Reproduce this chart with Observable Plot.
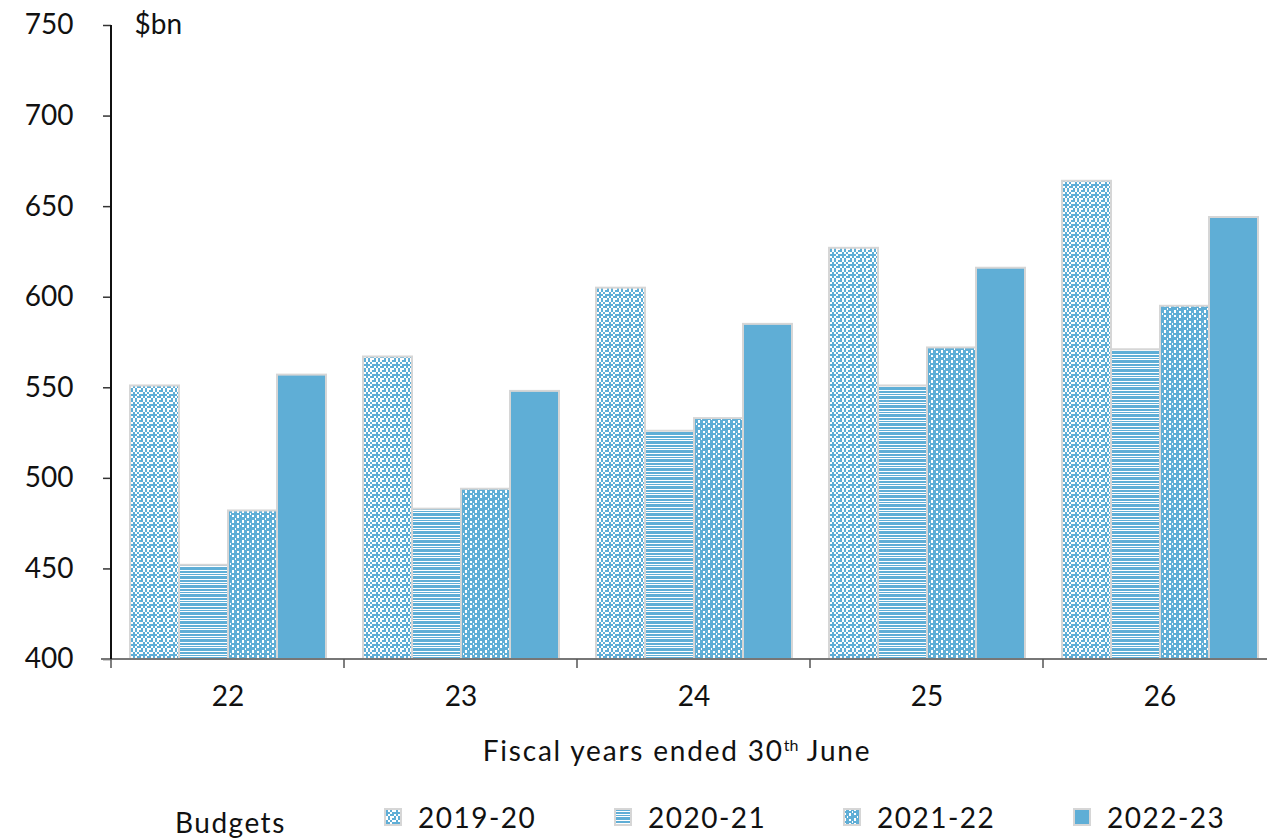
<!DOCTYPE html>
<html>
<head>
<meta charset="utf-8">
<script src="https://cdn.jsdelivr.net/npm/d3@7"></script>
<script src="https://cdn.jsdelivr.net/npm/@observablehq/plot@0.6"></script>
<style>
  html, body { margin: 0; padding: 0; background: #fff; }
  body { width: 1267px; height: 840px; overflow: hidden; font-family: Lato, "Open Sans", sans-serif; color: #111; }
  #chart svg { display: block; overflow: visible; }
  #xtitle { height: 60px; line-height: 60px; padding-left: 87px; width: 1180px; text-align: center; font-size: 28px; letter-spacing: 1.8px; }
  #xtitle sup { font-size: 16px; vertical-align: 0; position: relative; top: -10px; letter-spacing: 0; }
  #legend { position: relative; height: 60px; font-size: 28px; letter-spacing: 1.5px; }
  #legend .item { position: absolute; top: 23px; display: flex; align-items: center; height: 28px; }
  #legend .item svg { margin-right: 16px; }
  #legend .title { position: absolute; top: 28px; left: 175px; line-height: 28px; }
</style>
</head>
<body>
<div id="chart"></div>
<div id="xtitle">Fiscal years ended 30<sup>th</sup> June</div>
<div id="legend"></div>
<script>
const years = ["22", "23", "24", "25", "26"];
const budgets = ["2019-20", "2020-21", "2021-22", "2022-23"];
const v201920 = [551, 567, 605, 627, 664];
const v202021 = [452, 483, 526, 551, 571];
const v202122 = [482, 494, 533, 572, 595];
const v202223 = [557, 548, 585, 616, 644];
const yTicks = [400, 450, 500, 550, 600, 650, 700, 750];
const unitLabel = "$bn";
const legendTitle = "Budgets";

const blue = "#5FAED6";
const patternIds = ["pat1920", "pat2021", "pat2122", "pat2223"];

const seriesValues = [v201920, v202021, v202122, v202223];
const data = [];
years.forEach((yr, i) => {
  budgets.forEach((b, j) => data.push({year: yr, budget: b, value: seriesValues[j][i]}));
});

// Shared pattern definitions (document-level so legend swatches can use them too)
const defsSvg = d3.select("body").append("svg").attr("width", 0).attr("height", 0)
  .style("position", "absolute").style("left", "0").style("top", "0");
const defs = defsSvg.append("defs");
// 2019-20: checker pattern with 2px cells
{
  const p = defs.append("pattern").attr("id", patternIds[0]).attr("patternUnits", "userSpaceOnUse")
    .attr("width", 10).attr("height", 10);
  p.append("rect").attr("width", 10).attr("height", 10).attr("fill", "#fff");
  const cells = [[0,0],[2,0],[4,0],[1,1],[3,1],[0,2],[1,2],[2,2],[4,2],[1,3],[3,3],[4,3],[0,4],[2,4]];
  cells.forEach(([cx, cy]) => p.append("rect").attr("x", cx * 2).attr("y", cy * 2).attr("width", 2).attr("height", 2).attr("fill", blue));
}
// 2020-21: horizontal stripes
{
  const p = defs.append("pattern").attr("id", patternIds[1]).attr("patternUnits", "userSpaceOnUse")
    .attr("width", 8).attr("height", 9);
  p.append("rect").attr("width", 8).attr("height", 9).attr("fill", "#fff");
  p.append("rect").attr("y", 0).attr("width", 8).attr("height", 3).attr("fill", blue);
  p.append("rect").attr("y", 4).attr("width", 8).attr("height", 2).attr("fill", blue);
  p.append("rect").attr("y", 7).attr("width", 8).attr("height", 1).attr("fill", blue);
}
// 2021-22: blue with white blocks
{
  const p = defs.append("pattern").attr("id", patternIds[2]).attr("patternUnits", "userSpaceOnUse")
    .attr("width", 10).attr("height", 10);
  p.append("rect").attr("width", 10).attr("height", 10).attr("fill", blue);
  [[1,0,2,3],[6,1,2,2],[6,5,2,3],[1,5,2,2],[4,8,1,2],[9,3,1,2]].forEach(([x, y, w, h]) =>
    p.append("rect").attr("x", x).attr("y", y).attr("width", w).attr("height", h).attr("fill", "#fff"));
}
// 2022-23: solid
{
  const p = defs.append("pattern").attr("id", patternIds[3]).attr("patternUnits", "userSpaceOnUse")
    .attr("width", 8).attr("height", 8);
  p.append("rect").attr("width", 8).attr("height", 8).attr("fill", blue);
}
const fills = patternIds.map(id => `url(#${id})`);

const fontFamily = "Lato, 'Open Sans', sans-serif";
const chart = Plot.plot({
  width: 1267,
  height: 720,
  marginLeft: 110,
  marginRight: -10,
  marginTop: 25,
  marginBottom: 61,
  style: {fontFamily, fontSize: "27px", color: "#111", background: "#fff"},
  fx: {domain: years, padding: 0, label: null},
  x: {domain: budgets, paddingInner: 0, paddingOuter: 0.37, axis: null},
  y: {domain: [yTicks[0], yTicks[yTicks.length - 1]]},
  color: {type: "ordinal", domain: budgets, range: fills},
  marks: [
    Plot.axisFx({anchor: "bottom", tickSize: 0, tickPadding: 27, label: null, fontSize: 28}),
    Plot.axisY({ticks: yTicks, tickSize: 8, tickPadding: 30, label: null, stroke: "#333", strokeWidth: 1.5, fontSize: 28}),
    Plot.barY(data, {
      fx: "year", x: "budget", y1: yTicks[0], y2: "value", fill: "budget",
      stroke: "#d6d6d6", strokeWidth: 2
    }),
    Plot.text([unitLabel], {fx: () => years[0], frameAnchor: "top-left", lineAnchor: "middle", textAnchor: "start", dx: 23, fontSize: 28})
  ]
});
document.getElementById("chart").appendChild(chart);

// Axis lines and band boundary ticks using the chart's own scales
const fx = chart.scale("fx");
const y = chart.scale("y");
const svg = d3.select(chart);
const y0 = y.apply(yTicks[0]);
const yTop = y.apply(yTicks[yTicks.length - 1]);
const xLeft = fx.apply(years[0]);
const g = svg.append("g");
g.append("line").attr("x1", xLeft - 10).attr("x2", 1267).attr("y1", y0).attr("y2", y0)
  .attr("stroke", "#777").attr("stroke-width", 2);
years.forEach(yr => {
  const xb = fx.apply(yr);
  g.append("line").attr("x1", xb).attr("x2", xb).attr("y1", y0).attr("y2", y0 + 9)
    .attr("stroke", "#555").attr("stroke-width", 1.5);
});
g.append("line").attr("x1", xLeft).attr("x2", xLeft).attr("y1", yTop).attr("y2", y0)
  .attr("stroke", "#111").attr("stroke-width", 2);

// Legend
const legend = d3.select("#legend");
legend.append("div").attr("class", "title").text(legendTitle);
const legendLefts = [384, 614, 843, 1073];
budgets.forEach((b, i) => {
  const item = legend.append("div").attr("class", "item").style("left", legendLefts[i] + "px");
  const s = item.append("svg").attr("width", 18).attr("height", 18);
  s.append("rect").attr("x", 1).attr("y", 1).attr("width", 16).attr("height", 16)
    .attr("fill", fills[i]).attr("stroke", "#d6d6d6").attr("stroke-width", 2);
  item.append("span").text(b);
});
</script>
</body>
</html>
